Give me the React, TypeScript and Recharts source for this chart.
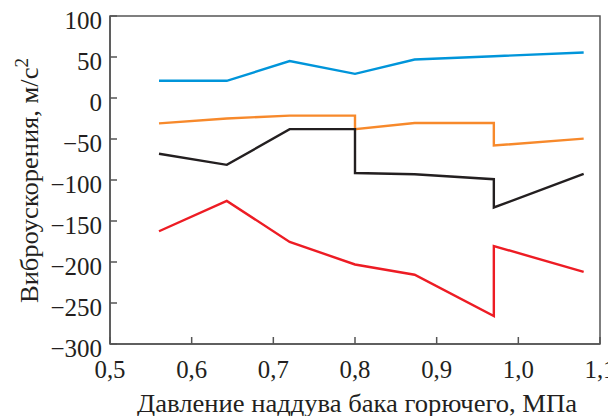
import React from "react";
import { LineChart, Line, XAxis, YAxis, ReferenceArea, Label } from "recharts";

const FONT = "Liberation Serif, Tinos, Times New Roman, DejaVu Serif, Noto Serif, serif";
const AXIS_COLOR = "#555555";
const TEXT_COLOR = "#231f20";
const textStyle = { fontFamily: FONT, fontSize: 25, fill: TEXT_COLOR };

// pressure points; 0.8 and 0.97 repeated for the vertical jumps
const pressure = [0.56, 0.643, 0.72, 0.8, 0.8, 0.873, 0.97, 0.97, 1.08];
const blueSeries = [21, 21, 45, 29.5, 29.5, 47, 51, 51, 55.5];
const orangeSeries = [-31, -25, -21.5, -21.5, -38, -30.5, -30.5, -58, -49.5];
const blackSeries = [-68, -81.5, -38, -38, -91.5, -93, -99, -133.5, -92.5];
const redSeries = [-162.5, -125.5, -175.5, -203, -203, -215.5, -266, -180.5, -212];

const xTicks = [0.5, 0.6, 0.7, 0.8, 0.9, 1.0, 1.1];
const yTicks = [100, 50, 0, -50, -100, -150, -200, -250, -300];

const data = pressure.map((p, i) => ({
  p,
  blue: blueSeries[i],
  orange: orangeSeries[i],
  black: blackSeries[i],
  red: redSeries[i],
}));

const fmtX = (v: number) => v.toFixed(1).replace(".", ",");
const fmtY = (v: number) => (v < 0 ? "\u2212" + Math.abs(v) : String(v));

const XTick = ({ x, y, payload }: any) => (
  <text x={x} y={y} textAnchor="middle" textLength={31} lengthAdjust="spacingAndGlyphs" style={textStyle}>
    {fmtX(payload.value)}
  </text>
);

const YTick = ({ x, y, payload }: any) => (
  <text x={x} y={y + 4} dy="0.355em" textAnchor="end" style={textStyle}>
    {fmtY(payload.value)}
  </text>
);

export default function App() {
  return (
    <LineChart width={608} height={408} data={data} margin={{ top: 8, right: 16, left: 0, bottom: 0 }}>
      <XAxis
        dataKey="p"
        type="number"
        domain={[0.5, 1.1]}
        ticks={xTicks}
        interval={0}
        allowDataOverflow
        height={72}
        tickSize={-7}
        tickMargin={41}
        tick={<XTick />}
        stroke={AXIS_COLOR}
        strokeWidth={1.5}
      >
        <Label
          content={() => (
            <text
              x={349}
              y={403.5}
              textAnchor="middle"
              textLength={440}
              lengthAdjust="spacingAndGlyphs"
              style={textStyle}
            >
              Давление наддува бака горючего, МПа
            </text>
          )}
        />
      </XAxis>
      <YAxis
        type="number"
        domain={[-300, 100]}
        ticks={yTicks}
        interval={0}
        allowDataOverflow
        width={102}
        tickSize={-7}
        tickMargin={15}
        tick={<YTick />}
        stroke={AXIS_COLOR}
        strokeWidth={1.5}
      >
        <Label
          content={() => (
            <text
              transform="translate(30, 172.5) rotate(-90)"
              textAnchor="middle"
              textLength={245}
              lengthAdjust="spacingAndGlyphs"
              style={textStyle}
            >
              Виброускорения, м/с
              <tspan dy={-10} style={{ fontSize: 18 }}>2</tspan>
            </text>
          )}
        />
      </YAxis>
      <ReferenceArea x1={0.5} x2={1.1} y1={-300} y2={100} fill="none" stroke={AXIS_COLOR} strokeWidth={1.5} />
      <Line dataKey="blue" stroke="#0095da" strokeWidth={2.4} dot={false} isAnimationActive={false} />
      <Line dataKey="orange" stroke="#f7892b" strokeWidth={2.4} dot={false} isAnimationActive={false} />
      <Line dataKey="black" stroke="#231f20" strokeWidth={2.4} dot={false} isAnimationActive={false} />
      <Line dataKey="red" stroke="#ed1c24" strokeWidth={2.4} dot={false} isAnimationActive={false} />
    </LineChart>
  );
}
